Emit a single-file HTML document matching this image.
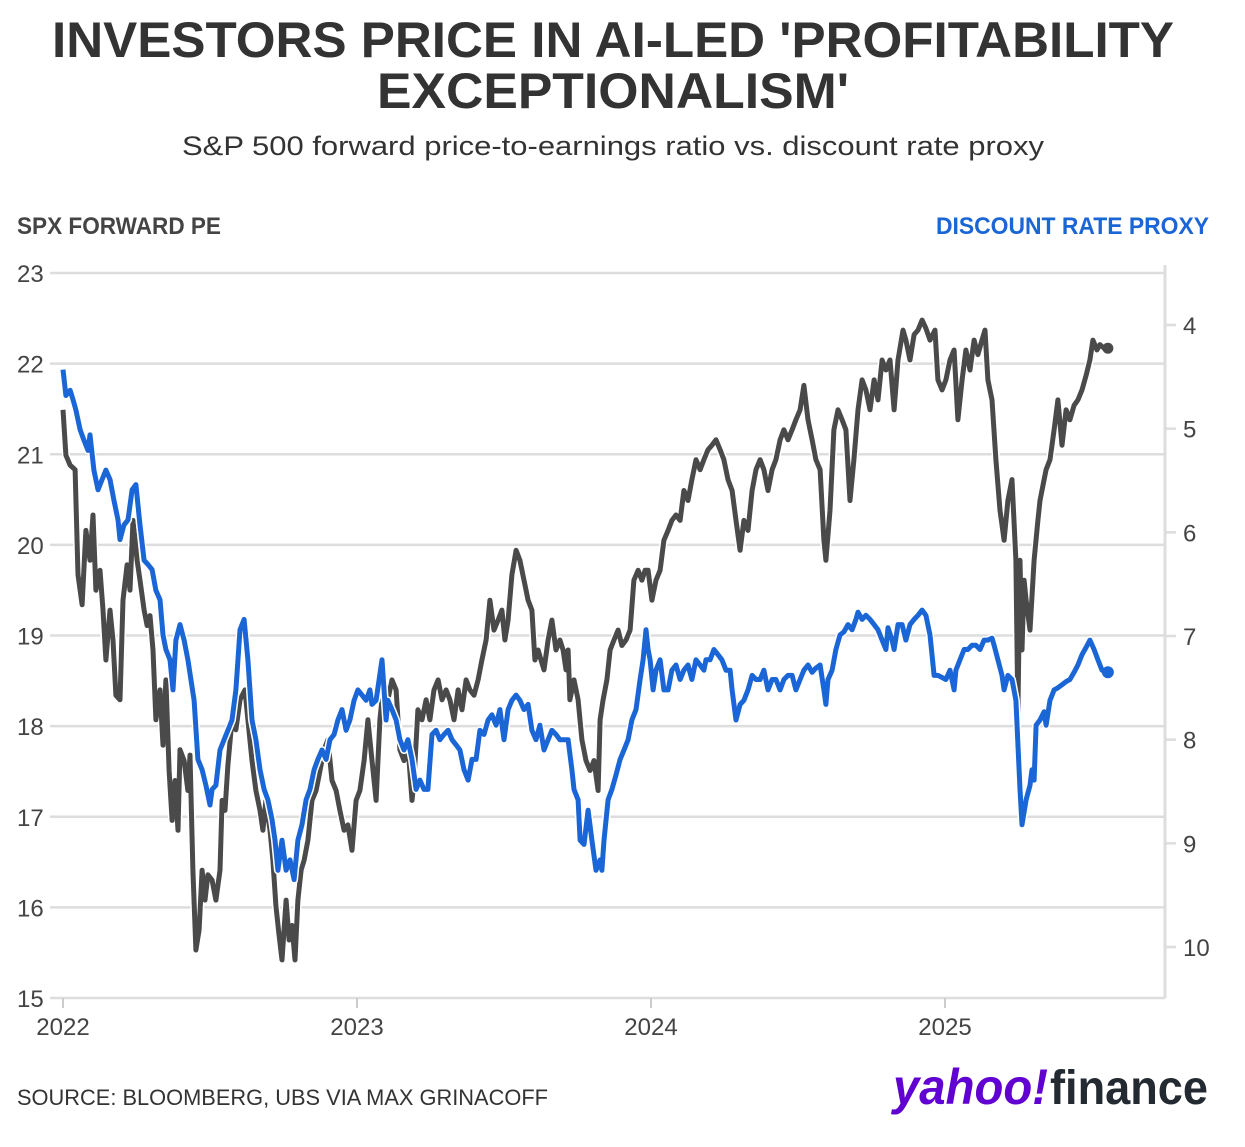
<!DOCTYPE html>
<html><head><meta charset="utf-8">
<style>
html,body{margin:0;padding:0;background:#fff;}
svg{display:block;font-family:"Liberation Sans",sans-serif;}
</style></head>
<body>
<svg id="chart" width="1245" height="1147" viewBox="0 0 1245 1147" xmlns="http://www.w3.org/2000/svg">
<rect width="1245" height="1147" fill="#fff"/>
<text x="613" y="57" text-anchor="middle" font-size="50" font-weight="bold" fill="#333" textLength="1122" lengthAdjust="spacingAndGlyphs">INVESTORS PRICE IN AI-LED 'PROFITABILITY</text>
<text x="613" y="108" text-anchor="middle" font-size="50" font-weight="bold" fill="#333" textLength="472" lengthAdjust="spacingAndGlyphs">EXCEPTIONALISM'</text>
<text x="613" y="155" text-anchor="middle" font-size="27" fill="#333" textLength="862" lengthAdjust="spacingAndGlyphs">S&amp;P 500 forward price-to-earnings ratio vs. discount rate proxy</text>
<text x="17" y="234" font-size="24" font-weight="bold" fill="#444" textLength="204" lengthAdjust="spacingAndGlyphs">SPX FORWARD PE</text>
<text x="1209" y="234" text-anchor="end" font-size="24" font-weight="bold" fill="#1a66d6" textLength="273" lengthAdjust="spacingAndGlyphs">DISCOUNT RATE PROXY</text>
<g id="grid"></g>
<g id="axes"></g>
<g id="series"></g>
<text x="17" y="1105" font-size="22" fill="#333" textLength="531" lengthAdjust="spacingAndGlyphs">SOURCE: BLOOMBERG, UBS VIA MAX GRINACOFF</text>
<g>
<text x="893" y="1104" font-size="50" font-weight="bold" font-style="italic" fill="#6001d2" textLength="155" lengthAdjust="spacingAndGlyphs">yahoo!</text>
<text x="1050" y="1104" font-size="48" font-weight="bold" fill="#232a31" textLength="158" lengthAdjust="spacingAndGlyphs">finance</text>
</g>
</svg>
<script>
const leftTicks=[15,16,17,18,19,20,21,22,23];
const rightTicks=[4,5,6,7,8,9,10];
const xTickYears=[2022,2023,2024,2025];
const baseYear=2022;
const peDates=[0,.010,.024,.041,.051,.065,.078,.092,.102,.112,
.126,.136,.146,.160,.170,.180,.194,.204,.218,.228,
.238,.252,.262,.276,.286,.296,.306,.316,.330,.340,
.350,.361,.371,.381,.391,.398,.412,.425,.432,.442,
.452,.463,.473,.483,.493,.507,.520,.534,.541,.551,
.561,.575,.588,.602,.619,.629,.643,.656,.670,.680,
.690,.704,.714,.724,.735,.745,.759,.769,.779,.789,
.799,.810,.820,.833,.847,.861,.874,.888,.901,.915,
.929,.942,.956,.969,.983,.997,1.010,1.024,1.037,1.051,
1.065,1.078,1.092,1.105,1.119,1.133,1.146,1.160,1.173,1.187,
1.194,1.207,1.221,1.235,1.248,1.262,1.276,1.289,1.303,1.316,
1.330,1.344,1.357,1.371,1.384,1.398,1.412,1.425,1.439,1.452,
1.466,1.480,1.493,1.503,1.514,1.527,1.541,1.554,1.568,1.582,
1.595,1.605,1.616,1.626,1.636,1.650,1.663,1.677,1.690,1.701,
1.711,1.718,1.724,1.738,1.752,1.765,1.779,1.793,1.806,1.820,
1.827,1.837,1.850,1.861,1.874,1.888,1.901,1.915,1.929,1.942,
1.956,1.969,1.980,1.990,2.003,2.017,2.031,2.044,2.058,2.071,
2.085,2.099,2.112,2.126,2.139,2.153,2.167,2.180,2.194,2.207,
2.221,2.235,2.248,2.262,2.276,2.289,2.303,2.316,2.330,2.344,
2.357,2.371,2.384,2.398,2.412,2.425,2.439,2.452,2.466,2.480,
2.493,2.507,2.520,2.534,2.548,2.561,2.575,2.588,2.595,2.609,
2.622,2.636,2.650,2.663,2.677,2.690,2.704,2.718,2.731,2.745,
2.759,2.772,2.786,2.799,2.813,2.827,2.840,2.857,2.867,2.881,
2.895,2.908,2.922,2.935,2.949,2.966,2.976,2.990,3.003,3.017,
3.031,3.044,3.058,3.071,3.085,3.099,3.112,3.126,3.136,3.146,
3.160,3.173,3.187,3.201,3.214,3.228,3.241,3.248,3.255,3.262,
3.269,3.276,3.289,3.303,3.316,3.323,3.337,3.344,3.357,3.371,
3.384,3.398,3.412,3.425,3.439,3.452,3.466,3.480,3.493,3.503,
3.517,3.527,3.541,3.554];
const peValues=[21.49,20.99,20.88,20.83,19.67,19.34,20.16,19.83,20.33,19.50,
19.72,19.28,18.73,19.28,18.95,18.34,18.29,19.39,19.78,19.50,
20.27,19.83,19.61,19.28,19.11,19.22,18.84,18.07,18.40,17.79,
18.51,17.51,16.96,17.40,16.85,17.74,17.62,17.29,17.68,16.41,
15.53,15.75,16.41,16.08,16.36,16.30,16.08,16.41,17.18,17.07,
17.57,18.07,17.96,18.29,18.40,18.07,17.62,17.29,17.07,16.85,
17.18,16.85,16.52,16.02,15.69,15.42,16.08,15.64,15.80,15.42,
16.08,16.41,16.52,16.74,17.18,17.29,17.51,17.74,17.85,17.40,
17.29,17.07,16.85,16.91,16.63,17.18,17.29,17.62,18.07,17.62,
17.18,18.07,18.51,18.29,18.51,18.40,17.74,17.62,17.79,17.18,
17.40,18.18,18.07,18.29,18.07,18.40,18.51,18.29,18.40,18.29,
18.07,18.40,18.18,18.51,18.40,18.34,18.51,18.73,18.95,19.39,
19.06,19.17,19.28,18.95,19.17,19.67,19.94,19.83,19.61,19.39,
19.28,18.73,18.84,18.73,18.62,18.95,19.17,18.84,18.95,18.84,
18.62,18.84,18.29,18.51,18.29,17.85,17.62,17.51,17.62,17.29,
18.07,18.29,18.51,18.84,18.95,19.06,18.89,18.95,19.06,19.61,
19.72,19.61,19.72,19.72,19.39,19.61,19.72,20.05,20.16,20.27,
20.33,20.27,20.60,20.49,20.72,20.94,20.83,20.94,21.05,21.10,
21.16,21.05,20.94,20.72,20.60,20.27,19.94,20.27,20.16,20.60,
20.83,20.94,20.83,20.60,20.83,20.94,21.16,21.27,21.16,21.27,
21.38,21.49,21.76,21.38,21.16,20.94,20.83,20.05,19.83,20.38,
21.27,21.49,21.38,21.27,20.49,20.94,21.49,21.82,21.71,21.49,
21.82,21.60,22.04,21.93,22.04,21.49,22.04,22.37,22.26,22.04,
22.32,22.37,22.48,22.39,22.26,22.37,21.82,21.71,21.82,22.04,
22.15,21.38,21.82,22.15,21.93,22.26,22.10,22.26,22.37,21.82,
21.60,20.94,20.38,20.05,20.49,20.72,19.83,18.12,19.83,18.84,
19.61,19.39,19.06,19.83,20.27,20.49,20.72,20.83,20.94,21.27,
21.60,21.10,21.49,21.38,21.54,21.60,21.71,21.87,22.04,22.26,
22.15,22.21,22.17,22.17];
const rateDates=[0,.010,.024,.034,.044,.058,.071,.085,.092,.105,
.119,.133,.146,.160,.173,.187,.194,.207,.221,.235,
.248,.262,.276,.289,.303,.316,.330,.340,.350,.364,
.374,.384,.398,.412,.425,.435,.446,.459,.473,.486,
.500,.507,.520,.534,.548,.561,.575,.588,.602,.616,
.629,.643,.656,.670,.684,.697,.711,.721,.731,.745,
.759,.772,.786,.799,.813,.827,.840,.854,.867,.881,
.895,.908,.922,.935,.949,.963,.976,.990,1.003,1.017,
1.031,1.044,1.051,1.065,1.085,1.099,1.105,1.119,1.133,1.146,
1.160,1.173,1.187,1.201,1.214,1.228,1.241,1.255,1.269,1.282,
1.296,1.310,1.323,1.337,1.350,1.364,1.378,1.391,1.405,1.418,
1.432,1.446,1.459,1.473,1.486,1.500,1.514,1.527,1.541,1.554,
1.568,1.582,1.595,1.609,1.622,1.636,1.650,1.663,1.677,1.690,
1.704,1.718,1.731,1.738,1.752,1.759,1.772,1.786,1.799,1.813,
1.827,1.833,1.840,1.854,1.867,1.881,1.895,1.908,1.922,1.935,
1.949,1.963,1.973,1.983,1.990,1.997,2.007,2.017,2.031,2.044,
2.058,2.071,2.085,2.099,2.112,2.126,2.139,2.153,2.167,2.180,
2.187,2.201,2.214,2.228,2.241,2.255,2.269,2.276,2.289,2.303,
2.316,2.330,2.344,2.357,2.371,2.384,2.398,2.412,2.425,2.439,
2.452,2.466,2.480,2.493,2.507,2.520,2.534,2.548,2.561,2.575,
2.588,2.595,2.602,2.616,2.629,2.643,2.656,2.670,2.684,2.697,
2.704,2.718,2.731,2.745,2.759,2.772,2.786,2.799,2.806,2.820,
2.827,2.840,2.854,2.867,2.881,2.895,2.908,2.922,2.935,2.949,
2.963,2.976,2.990,3.003,3.017,3.031,3.037,3.051,3.065,3.078,
3.092,3.105,3.119,3.133,3.146,3.160,3.167,3.180,3.194,3.201,
3.214,3.228,3.241,3.255,3.262,3.276,3.289,3.296,3.303,3.310,
3.323,3.337,3.344,3.357,3.371,3.384,3.398,3.412,3.425,3.439,
3.452,3.466,3.480,3.493,3.507,3.520,3.534,3.548,3.554];
const rateValues=[4.43,4.68,4.63,4.72,4.82,5.01,5.11,5.21,5.06,5.40,
5.59,5.49,5.40,5.49,5.69,5.88,6.07,5.93,5.88,5.59,
5.54,5.93,6.27,6.31,6.36,6.56,6.65,6.99,7.13,7.23,
7.52,7.04,6.89,7.04,7.23,7.42,7.62,8.19,8.29,8.44,
8.63,8.48,8.44,8.10,8.00,7.91,7.81,7.52,6.94,6.84,
7.23,7.81,8.00,8.29,8.48,8.58,8.77,8.97,9.26,8.97,
9.26,9.16,9.35,8.97,8.82,8.58,8.48,8.29,8.19,8.10,
8.19,8.00,7.95,7.81,7.71,7.91,7.81,7.62,7.52,7.57,
7.62,7.52,7.66,7.62,7.23,7.81,7.62,7.71,7.81,8.00,
8.10,8.00,8.19,8.48,8.39,8.48,8.48,7.95,7.91,8.00,
7.95,7.91,8.00,8.05,8.10,8.29,8.39,8.19,8.19,7.91,
7.95,7.81,7.76,7.86,7.71,8.00,7.71,7.62,7.57,7.62,
7.71,7.66,7.91,8.00,7.86,8.10,8.00,7.91,7.95,8.00,
8.00,8.00,8.29,8.48,8.58,8.97,9.01,8.68,8.97,9.26,
9.16,9.26,8.97,8.58,8.48,8.34,8.19,8.10,8.00,7.81,
7.71,7.42,7.23,6.94,7.13,7.23,7.52,7.33,7.23,7.52,
7.52,7.33,7.28,7.42,7.33,7.28,7.42,7.23,7.28,7.33,
7.23,7.23,7.13,7.18,7.23,7.33,7.33,7.52,7.81,7.66,
7.62,7.52,7.38,7.42,7.42,7.33,7.52,7.42,7.42,7.52,
7.42,7.38,7.38,7.52,7.42,7.33,7.28,7.35,7.31,7.28,
7.52,7.66,7.42,7.33,7.13,6.99,6.96,6.89,6.94,6.84,
6.77,6.84,6.80,6.84,6.89,6.94,7.04,7.13,6.92,7.04,
7.13,6.89,6.89,7.04,6.89,6.84,6.80,6.75,6.80,6.99,
7.38,7.38,7.40,7.42,7.33,7.52,7.33,7.23,7.13,7.13,
7.09,7.09,7.13,7.04,7.04,7.02,7.09,7.23,7.38,7.52,
7.38,7.42,7.62,8.48,8.82,8.58,8.44,8.29,8.39,7.86,
7.81,7.73,7.86,7.62,7.52,7.50,7.47,7.44,7.42,7.35,
7.28,7.18,7.11,7.04,7.13,7.23,7.33,7.35,7.35];

const NS='http://www.w3.org/2000/svg';
const plot={left:50,right:1165,top:273,bottom:998};
const xScale=y=>63+(y-0)*294;                  // y = years since base
const yLeft=v=>998-(v-15)*(998-273)/8;
const yRight=v=>325+(v-4)*(947-325)/6;
function mk(tag,attrs,parent){const e=document.createElementNS(NS,tag);for(const k in attrs)e.setAttribute(k,attrs[k]);parent.appendChild(e);return e;}
const grid=document.getElementById('grid'),axes=document.getElementById('axes'),series=document.getElementById('series');
leftTicks.forEach(t=>{
  const y=yLeft(t);
  const l=mk('line',{x1:plot.left,x2:plot.right,y1:y,y2:y,stroke:'#dddddd','stroke-width':2.5},grid);
  
  
  const tx=mk('text',{x:17,y:y+9,'font-size':24,fill:'#444'},axes);
  tx.textContent=t;
  
  
});
const ra=mk('line',{x1:1165,x2:1165,y1:265,y2:998,stroke:'#dddddd','stroke-width':3},axes);


rightTicks.forEach(t=>{
  const y=yRight(t);
  const tk=mk('line',{x1:1165,x2:1176,y1:y,y2:y,stroke:'#dddddd','stroke-width':2.5},axes);
  
  
  const tx=mk('text',{x:1183,y:y+9,'font-size':24,fill:'#444'},axes);
  tx.textContent=t;
  
  
});
xTickYears.forEach(yr=>{
  const x=xScale(yr-baseYear);
  const tk=mk('line',{x1:x,x2:x,y1:998,y2:1008,stroke:'#cccccc','stroke-width':2},axes);
  
  
  const tx=mk('text',{x:x,y:1035,'font-size':24,fill:'#444','text-anchor':'middle'},axes);
  tx.textContent=yr;
  
  
});
function pathFor(dates,vals,ys){const n=Math.min(dates.length,vals.length);let d='';for(let i=0;i<n;i++){d+=(i?'L':'M')+xScale(dates[i]).toFixed(1)+','+ys(vals[i]).toFixed(1);}return d;}
const pd=pathFor(peDates,peValues,yLeft), rd=pathFor(rateDates,rateValues,yRight);
const peHalo=mk('path',{d:pd,fill:'none',stroke:'#fff','stroke-width':8,'stroke-linejoin':'round'},series);


const peLine=mk('path',{d:pd,fill:'none',stroke:'#4a4a4a','stroke-width':5,'stroke-linejoin':'round'},series);


const rHalo=mk('path',{d:rd,fill:'none',stroke:'#fff','stroke-width':8,'stroke-linejoin':'round'},series);


const rLine=mk('path',{d:rd,fill:'none',stroke:'#1a66d6','stroke-width':5,'stroke-linejoin':'round'},series);


const pn=Math.min(peDates.length,peValues.length)-1, rn=Math.min(rateDates.length,rateValues.length)-1;
const pdot=mk('circle',{cx:xScale(peDates[pn]),cy:yLeft(peValues[pn]),r:5.5,fill:'#4a4a4a'},series);


const rdot=mk('circle',{cx:xScale(rateDates[rn]),cy:yRight(rateValues[rn]),r:6,fill:'#1a66d6'},series);


</script>
</body></html>
